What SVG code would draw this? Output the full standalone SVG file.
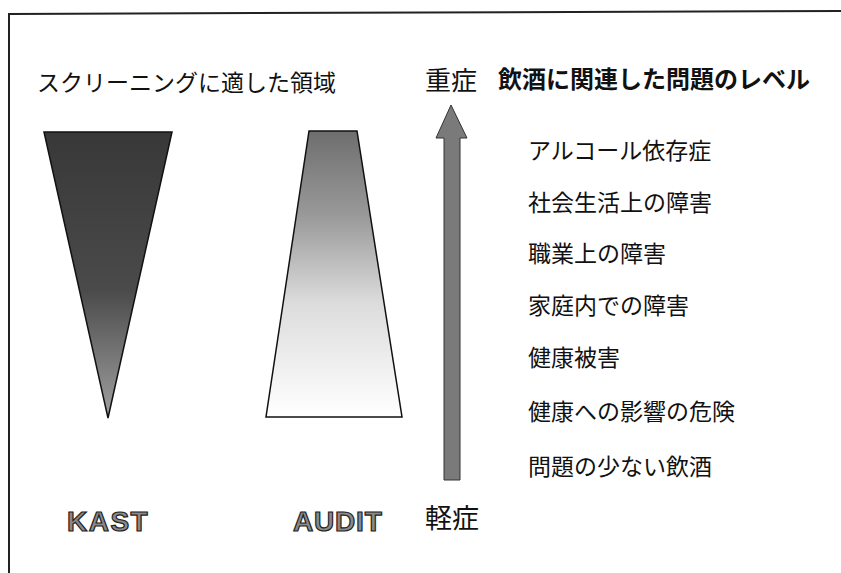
<svg xmlns="http://www.w3.org/2000/svg" width="841" height="573" viewBox="0 0 841 573">
<defs>
<linearGradient id="gK" x1="0" y1="0" x2="0" y2="1">
<stop offset="0" stop-color="#383838"/>
<stop offset="0.55" stop-color="#4a4a4a"/>
<stop offset="1" stop-color="#a0a0a0"/>
</linearGradient>
<linearGradient id="gA" x1="0" y1="0" x2="0" y2="1">
<stop offset="0" stop-color="#6e6e6e"/>
<stop offset="0.3" stop-color="#9a9a9a"/>
<stop offset="0.6" stop-color="#dcdcdc"/>
<stop offset="1" stop-color="#ffffff"/>
</linearGradient>
<style>
.jp{font-family:"Noto Sans CJK JP","Noto Sans CJK SC",sans-serif;fill:#111}
.lst{font-size:23px}
.bigl{font-family:"Liberation Sans",Arial,sans-serif;font-weight:bold;font-size:28px;fill:#8a8a8a;stroke:#222;stroke-width:1.2}
.shape{stroke:#111;stroke-width:1.5}
</style>
</defs>
<path d="M9,573 L9,14 L841,11" fill="none" stroke="#222" stroke-width="2"/>
<text class="jp" x="37" y="91" font-size="23">スクリーニングに適した領域</text>
<g id="kast">
<polygon class="shape" points="44,132 172,132 108,418" fill="url(#gK)"/>
<text class="bigl" x="67" y="531" letter-spacing="1.5">KAST</text>
</g>
<g id="audit">
<polygon class="shape" points="309,131 357,131 402,417 266,417" fill="url(#gA)"/>
<text class="bigl" x="293" y="531" letter-spacing="0.8">AUDIT</text>
</g>
<g id="connectors">
<polygon points="451,105 467,138 460,138 460,480 444,480 444,138 436,138" fill="#7a7a7a" stroke="#333" stroke-width="1"/>
</g>
<g id="severe"><text class="jp" x="425" y="90" font-size="26">重症</text></g>
<g id="mild"><text class="jp" x="425" y="528" font-size="27">軽症</text></g>
<g id="heading"><text class="jp" x="498" y="88" font-size="24" font-weight="bold">飲酒に関連した問題のレベル</text></g>
<g id="levels">
<text class="jp lst" x="528" y="159">アルコール依存症</text>
<text class="jp lst" x="528" y="211">社会生活上の障害</text>
<text class="jp lst" x="528" y="262">職業上の障害</text>
<text class="jp lst" x="528" y="314">家庭内での障害</text>
<text class="jp lst" x="528" y="366">健康被害</text>
<text class="jp lst" x="528" y="420">健康への影響の危険</text>
<text class="jp lst" x="528" y="475">問題の少ない飲酒</text>
</g>
</svg>
